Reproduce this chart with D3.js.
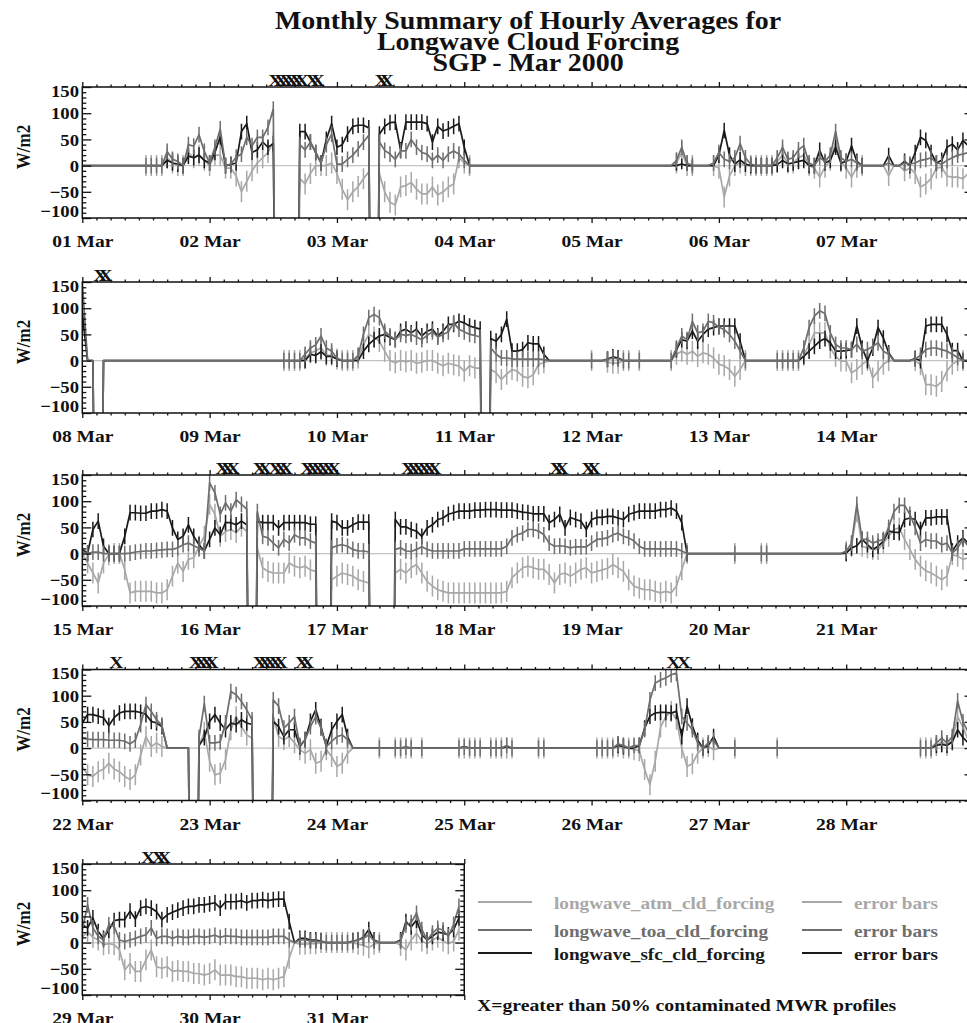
<!DOCTYPE html>
<html>
<head>
<meta charset="utf-8">
<script src="https://cdn.jsdelivr.net/npm/d3@7/dist/d3.min.js"></script>
<style>
html,body{margin:0;padding:0;background:#fff;}
svg text{font-family:"Liberation Serif","Times New Roman",serif;font-weight:bold;}
</style>
</head>
<body>
<svg id="chart" width="967" height="1023"></svg>
<script>
const F = -999; // fill value (missing), drawn off-scale like the original
const dayLabels = d3.range(1, 32).map(d => (d < 10 ? "0" + d : "" + d) + " Mar");
const panelDays = [[0, 7], [7, 14], [14, 21], [21, 28], [28, 31]];
const yTicks = [-100, -50, 0, 50, 100, 150];
const seriesNames = { atm: "longwave_atm_cld_forcing", toa: "longwave_toa_cld_forcing", sfc: "longwave_sfc_cld_forcing" };
// hours (local to each panel) flagged with >50% contaminated MWR profiles
const contaminated = [
  [36, 37, 38, 39, 40, 41, 43, 44, 56, 57],
  [3, 4],
  [26, 27, 28, 33, 34, 36, 37, 38, 42, 43, 44, 45, 46, 47, 61, 62, 63, 64, 65, 66, 89, 90, 95, 96],
  [6, 21, 22, 23, 24, 33, 34, 35, 36, 37, 41, 42, 111, 113],
  [12, 14, 15]
];

// hourly values, one row of 24 per day (01..31 Mar)
const sfc = [
[0,0,0,0,0,0,0,0, 0,0,0,0,0,0,0,0, 10,5,3,0,18,15,20,10],
[5,25,55,0,2,5,65,80, 25,30,45,35,42,F,F,F, F,65,65,45,25,5,50,80],
[35,40,60,75,77,77,72,F, 60,75,82,83,30,83,83,83, 83,80,45,75,66,70,75,80],
[35,0,0,0,0,0,0,0, 0,0,0,0,0,0,0,0, 0,0,0,0,0,0,0,0],
[0,0,0,0,0,0,0,0, 0,0,0,0,0,0,0,0, 0,3,0,0,0,0,0,0],
[20,67,20,3,11,3,0,0, 0,0,0,2,10,3,5,8, 10,0,0,29,5,10,35,5],
[8,38,8,0,0,0,0,0, 19,0,0,8,0,25,54,48, 25,5,10,35,41,30,48,38],
[90,0,0,F,0,0,0,0, 0,0,0,0,0,0,0,0, 0,0,0,0,0,0,0,0],
[0,0,0,0,0,0,0,0, 0,0,0,0,0,0,0,0, 0,0,0,12,10,17,8,8],
[3,0,0,0,0,18,31,40, 47,50,44,40,56,60,53,60, 47,56,60,47,56,69,69,75],
[72,66,63,60,F,42,37,50, 79,18,18,21,34,32,32,12, 0,0,0,0,0,0,0,0],
[0,0,0,3,7,5,0,0, 0,0,0,0,0,0,0,0, 21,40,37,56,37,50,60,63],
[66,66,66,66,37,0,0,0, 0,0,0,0,0,0,0,0, 8,18,27,37,42,34,18,18],
[19,21,66,24,0,24,63,43, 15,0,0,0,0,4,0,66, 69,69,69,50,19,19,0,0],
[8,1,46,62,14,0,0,0, 33,78,78,77,77,81,81,84, 81,49,27,33,55,33,17,5],
[27,49,36,59,59,55,62,55, F,62,59,59,59,49,59,59, 59,59,59,56,56,F,F,62],
[59,49,49,55,60,60,60,F, F,F,F,65,51,51,46,43, 33,49,55,65,68,75,78,81],
[81,81,83,83,84,84,84,83, 83,83,81,79,78,76,76,76, 59,65,75,49,69,65,62,46],
[65,69,69,71,71,68,65,75, 78,81,81,81,81,84,84,87, 81,59,0,0,0,0,0,0],
[0,0,0,0,0,0,0,0, 0,0,0,0,0,0,0,0, 0,0,0,0,0,0,0,0],
[1,11,15,27,17,8,14,24, 43,41,40,65,68,65,46,68, 68,70,70,70,5,20,30,20],
[48,64,64,61,58,43,58,67, 70,70,70,68,64,51,48,41, 0,0,0,0,0,F,5,20],
[51,64,48,35,48,45,54,48, 45,F,F,F,51,41,22,35, 35,3,16,51,73,41,3,35],
[51,64,22,0,0,0,0,0, 0,0,0,0,0,2,0,0, 0,0,0,0,0,0,0,0],
[3,0,0,0,0,0,0,0, 3,0,0,0,0,0,0,0, 0,0,0,0,0,0,0,0],
[0,0,0,0,0,5,3,0, 0,5,38,61,67,68,68,67, 70,22,80,42,15,0,5,22],
[0,0,0,0,0,0,0,0, 0,0,0,0,0,0,0,0, 0,0,0,0,0,0,0,0],
[0,0,0,0,0,0,0,0, 0,0,0,0,0,0,0,0, 0,5,7,5,12,35,20,10],
[34,28,47,21,8,24,42,44, 44,60,45,66,69,66,59,44, 53,58,62,66,69,69,72,72],
[74,76,66,78,78,78,80,76, 80,80,82,80,82,83,83,40, 0,8,8,5,5,3,0,0],
[0,0,0,3,5,10,25,5, 0,0,0,0,5,40,30,43, 15,5,12,20,18,15,25,47]
];
const toa = [
[0,0,0,0,0,0,0,0, 0,0,0,0,0,0,0,0, 27,12,8,0,40,37,59,27],
[5,35,70,0,3,16,22,54, 38,54,54,73,108,F,F,F, F,40,30,45,25,5,40,60],
[3,3,12,20,32,45,58,F, 45,29,22,12,28,28,50,35, 25,22,10,20,10,22,28,22],
[10,0,0,0,0,0,0,0, 0,0,0,0,0,0,0,0, 0,0,0,0,0,0,0,0],
[0,0,0,0,0,0,0,0, 0,0,0,0,0,0,0,0, 10,35,5,0,0,0,0,5],
[25,12,8,15,42,15,3,0, 0,0,0,15,35,12,15,30, 38,5,0,15,8,20,65,15],
[8,12,5,0,0,0,0,0, 5,0,0,5,3,5,10,12, 15,5,3,10,15,20,22,25],
[150,0,0,F,0,0,0,0, 0,0,0,0,0,0,0,0, 0,0,0,0,0,0,0,0],
[0,0,0,0,0,0,0,0, 0,0,0,0,0,0,0,0, 0,0,12,24,30,47,24,18],
[5,0,0,0,10,50,82,88, 82,56,47,40,50,48,50,45, 40,48,55,45,50,55,72,60],
[55,50,48,45,F,24,12,5, 5,3,3,3,3,3,3,2, 0,0,0,0,0,0,0,0],
[0,0,0,2,5,3,0,0, 0,0,0,0,0,0,0,0, 24,47,40,75,53,56,75,72],
[64,59,50,37,18,0,0,0, 0,0,0,0,0,0,0,0, 24,63,85,95,90,53,31,24],
[24,21,31,18,21,27,34,18, 12,0,0,0,0,3,10,21, 24,24,21,18,12,6,0,0],
[3,0,3,3,0,0,0,0, 0,1,3,4,5,5,6,7, 8,8,11,17,20,15,10,5],
[135,116,75,97,81,103,94,85, F,80,33,30,20,11,27,20, 36,30,30,24,20,F,F,11],
[15,17,14,8,5,5,3,F, F,F,F,8,11,5,4,8, 13,8,5,5,5,5,5,5],
[9,9,9,9,9,9,9,9, 14,30,36,39,46,46,43,36, 20,14,15,14,11,13,13,13],
[20,27,28,30,36,39,33,30, 24,14,9,9,9,9,9,9, 9,5,0,0,0,0,0,0],
[0,0,0,0,0,0,0,0, 0,0,0,0,0,0,0,0, 0,0,0,0,0,0,0,0],
[5,20,94,27,27,20,24,27, 50,80,92,92,75,50,20,27, 24,24,17,20,1,11,27,14],
[19,17,16,16,16,15,15,15, 13,8,15,45,83,70,54,44, 0,0,0,0,0,F,20,85],
[10,10,12,48,108,102,89,73, 54,F,F,F,92,80,38,48, 60,5,16,41,60,38,3,13],
[22,25,16,0,0,0,0,0, 0,0,0,0,0,2,0,0, 0,0,0,0,0,0,0,0],
[2,0,0,0,0,0,0,0, 5,0,0,0,0,0,0,0, 0,0,0,0,0,0,0,0],
[0,0,0,0,0,8,5,0, 5,5,35,92,124,130,134,140, 143,60,48,35,10,0,10,15],
[0,0,0,0,0,0,0,0, 0,0,0,0,0,0,0,0, 0,0,0,0,0,0,0,0],
[0,0,0,0,0,0,0,0, 0,0,0,0,0,0,0,0, 0,10,19,10,22,90,50,30],
[24,72,28,12,5,34,31,5, 2,5,8,12,15,28,8,12, 12,8,12,10,10,12,12,10],
[12,14,10,13,12,12,10,10, 10,10,10,10,12,12,12,5, 0,5,5,3,3,2,0,0],
[0,0,0,2,5,8,15,3, 0,0,0,0,3,34,38,56, 25,5,18,27,24,12,35,69]
];
const atm = [
[0,0,0,0,0,0,0,0, 0,0,0,0,0,0,0,0, 15,5,0,0,25,15,20,10],
[0,20,20,-5,-5,-20,-50,-30, -10,5,15,25,45,F,F,F, F,-25,-35,-15,0,0,0,5],
[-15,-45,-65,-50,-40,-25,-12,F, -15,-50,-70,-75,-41,-38,-32,-45, -54,-54,-41,-56,-50,-41,-35,15],
[5,0,0,0,0,0,0,0, 0,0,0,0,0,0,0,0, 0,0,0,0,0,0,0,0],
[0,0,0,0,0,0,0,0, 0,0,0,0,0,0,0,0, 5,25,0,0,0,0,0,0],
[-5,-60,-20,0,5,0,0,0, 0,0,0,8,20,5,5,15, 20,0,-5,-22,-3,10,45,8],
[-5,-22,-3,0,0,0,0,0, -19,0,0,-10,-5,-15,-41,-35, -25,-5,-3,-20,-22,-22,-25,-15],
[100,0,0,F,0,0,0,0, 0,0,0,0,0,0,0,0, 0,0,0,0,0,0,0,0],
[0,0,0,0,0,0,0,0, 0,0,0,0,0,0,0,0, 0,0,5,15,18,25,10,10],
[3,0,0,0,5,30,50,45, 37,18,0,-4,0,-2,0,-5, -3,0,0,-5,-10,-5,-8,-10],
[-20,-10,-14,-15,F,-17,-23,-36, -26,-17,-20,-30,-33,-27,-7,-4, 0,0,0,0,0,0,0,0],
[0,0,0,-3,-5,-5,0,0, 0,0,0,0,0,0,0,0, 12,18,12,18,8,15,12,5],
[-7,-10,-17,-30,-17,0,0,0, 0,0,0,0,0,0,0,0, 10,31,53,53,53,24,8,-1],
[-1,-23,-17,-7,0,-33,-20,-7, 0,0,0,0,0,0,-8,-46, -46,-49,-40,-20,-7,0,0,0],
[0,-18,-37,-56,-18,-2,0,0, -31,-75,-72,-72,-72,-72,-75,-75, -69,-43,-18,-34,-11,-8,14,33],
[94,75,33,42,46,40,52,42, F,10,-27,-34,-37,-37,-37,-18, -24,-27,-24,-31,-34,F,F,-50],
[-43,-37,-40,-43,-50,-53,-56,F, F,F,F,-37,-30,-37,-27,-21, -37,-53,-62,-69,-72,-75,-75,-75],
[-75,-75,-75,-75,-75,-75,-75,-75, -72,-46,-37,-27,-24,-27,-30,-30, -40,-56,-40,-37,-43,-37,-30,-27],
[-37,-34,-31,-28,-21,-27,-34,-50, -62,-66,-69,-69,-72,-75,-72,-75, -62,-31,0,0,0,0,0,0],
[0,0,0,0,0,0,0,0, 0,0,0,0,0,0,0,0, 0,0,0,0,0,0,0,0],
[4,14,80,14,11,8,8,20, 33,46,49,27,8,-11,-24,-33, -37,-43,-50,-43,-2,-5,-11,-8],
[-35,-51,-54,-45,-40,-29,-40,-45, -54,-60,-51,-13,22,3,10,3, 0,0,0,0,0,F,5,30],
[-25,-51,-48,-22,35,60,41,25, 19,F,F,F,60,22,16,22, 10,-3,-10,-3,-29,-25,-3,-16],
[-35,-29,-10,0,0,0,0,0, 0,0,0,0,0,0,0,0, 0,0,0,0,0,0,0,0],
[0,0,0,0,0,0,0,0, 0,0,0,0,0,0,0,0, 0,0,0,0,0,0,0,0],
[0,0,0,0,0,3,0,0, -3,-5,-41,-70,-25,40,60,70, 55,0,-35,-30,-10,0,3,-3],
[0,0,0,0,0,0,0,0, 0,0,0,0,0,0,0,0, 0,0,0,0,0,0,0,0],
[0,0,0,0,0,0,0,0, 0,0,0,0,0,0,0,0, 0,5,12,5,15,60,40,15],
[11,21,10,5,-4,-2,-4,-14, -52,-40,-55,-55,-33,-14,-46,-49, -46,-55,-53,-55,-55,-59,-59,-62],
[-59,-52,-62,-62,-62,-65,-65,-68, -68,-68,-71,-68,-71,-68,-65,-30, 0,-3,-3,-2,-2,0,0,0],
[0,0,0,0,-3,-5,-10,-3, 0,0,0,0,-5,-14,5,18, 3,-2,5,10,3,-2,3,24]
];

// error-bar half lengths (W/m2), 0 = no bar
const errSfc = [
[0,0,0,0,0,0,0,0, 0,0,0,0,0,0,0,0, 15,15,15,15,15,15,15,15],
[15,15,15,15,15,15,15,15, 15,15,15,15,15,0,0,0, 0,15,15,15,15,15,15,15],
[15,15,15,15,15,15,15,0, 15,15,15,15,15,15,15,15, 15,15,15,15,15,15,15,15],
[15,0,0,0,0,0,0,0, 0,0,0,0,0,0,0,0, 0,0,0,0,0,0,0,0],
[0,0,0,0,0,0,0,0, 0,0,0,0,0,0,0,0, 10,10,10,10,0,0,0,0],
[15,15,15,15,15,15,15,15, 15,15,15,15,15,15,15,15, 15,15,15,15,15,15,15,15],
[15,15,15,15,0,0,0,0, 15,0,0,15,15,15,15,15, 15,15,15,15,15,15,15,15],
[15,0,0,0,0,0,0,0, 0,0,0,0,0,0,0,0, 0,0,0,0,0,0,0,0],
[0,0,0,0,0,0,0,0, 0,0,0,0,0,0,0,0, 0,0,15,15,15,15,15,15],
[15,0,0,0,0,15,15,15, 15,15,15,15,15,15,15,15, 15,15,15,15,15,15,15,15],
[15,15,15,15,0,15,15,15, 15,15,15,15,15,15,15,15, 0,0,0,0,0,0,0,0],
[0,0,0,15,15,15,0,0, 0,0,0,0,0,0,0,0, 15,15,15,15,15,15,15,15],
[15,15,15,15,15,0,0,0, 0,0,0,0,0,0,0,0, 15,15,15,15,15,15,15,15],
[15,15,15,15,15,15,15,15, 15,0,0,0,0,15,15,15, 15,15,15,15,15,15,15,0],
[15,15,15,15,15,15,15,15, 15,15,15,15,15,15,15,15, 15,15,15,15,15,15,15,15],
[15,15,15,15,15,15,15,15, 0,15,15,15,15,15,15,15, 15,15,15,15,15,0,0,15],
[15,15,15,15,15,15,15,0, 0,0,0,15,15,15,15,15, 15,15,15,15,15,15,15,15],
[15,15,15,15,15,15,15,15, 15,15,15,15,15,15,15,15, 15,15,15,15,15,15,15,15],
[15,15,15,15,15,15,15,15, 15,15,15,15,15,15,15,15, 15,15,15,0,0,0,0,0],
[0,0,0,0,0,0,0,0, 0,0,0,0,0,0,0,0, 0,0,0,0,0,0,0,0],
[15,15,15,15,15,15,15,15, 15,15,15,15,15,15,15,15, 15,15,15,15,15,15,15,15],
[15,15,15,15,15,15,15,15, 15,15,15,15,15,15,15,15, 0,0,0,0,0,0,15,15],
[15,15,15,15,15,15,15,15, 15,0,0,0,15,15,15,15, 15,15,15,15,15,15,15,15],
[15,15,15,0,0,0,0,0, 0,0,0,0,0,0,0,0, 0,0,0,0,0,0,0,0],
[0,0,0,0,0,0,0,0, 0,0,0,0,0,0,0,0, 0,0,0,0,0,0,0,0],
[0,0,0,0,0,15,15,0, 0,15,15,15,15,15,15,15, 15,15,15,15,15,15,15,15],
[0,0,0,0,0,0,0,0, 0,0,0,0,0,0,0,0, 0,0,0,0,0,0,0,0],
[0,0,0,0,0,0,0,0, 0,0,0,0,0,0,0,0, 0,15,15,15,15,15,15,15],
[15,15,15,15,15,15,15,15, 15,15,15,15,15,15,15,15, 15,15,15,15,15,15,15,15],
[15,15,15,15,15,15,15,15, 15,15,15,15,15,15,15,15, 0,15,15,15,15,15,0,0],
[0,0,0,15,15,15,15,15, 0,0,0,0,15,15,15,15, 15,15,15,15,15,15,15,15]
];
const errToa = [
[0,0,0,0,0,0,0,0, 0,0,0,0,15,15,15,15, 15,15,15,15,15,15,15,15],
[15,15,15,15,15,15,15,15, 15,15,15,15,15,0,0,0, 0,15,15,15,15,15,15,15],
[15,15,15,15,15,15,15,0, 15,15,15,15,15,15,15,15, 15,15,15,15,15,15,15,15],
[15,15,0,0,0,0,0,0, 0,0,0,0,0,0,0,0, 0,0,0,0,0,0,0,0],
[0,0,0,0,0,0,0,0, 0,0,0,0,0,0,0,0, 15,15,15,15,0,0,0,15],
[15,15,15,15,15,15,15,15, 15,15,15,15,15,15,15,15, 15,15,15,15,15,15,15,15],
[15,15,15,15,0,0,0,0, 15,0,0,15,15,15,15,15, 15,15,15,15,15,15,15,15],
[15,0,0,0,0,0,0,0, 0,0,0,0,0,0,0,0, 0,0,0,0,0,0,0,0],
[0,0,0,0,0,0,0,0, 0,0,0,0,0,0,15,15, 15,15,15,15,15,15,15,15],
[15,15,15,15,15,15,15,15, 15,15,15,15,15,15,15,15, 15,15,15,15,15,15,15,15],
[15,15,15,15,0,15,15,15, 15,15,15,15,15,15,15,15, 0,0,0,0,0,0,0,0],
[15,0,0,15,15,15,15,15, 0,15,0,0,0,0,0,15, 15,15,15,15,15,15,15,15],
[15,15,15,15,15,15,0,0, 0,0,0,15,15,15,15,15, 15,15,15,15,15,15,15,15],
[15,15,15,15,15,15,15,15, 15,0,0,0,0,15,15,15, 15,15,15,15,15,15,15,0],
[15,15,15,15,15,15,15,15, 15,15,15,15,15,15,15,15, 15,15,15,15,15,15,15,15],
[15,15,15,15,15,15,15,15, 0,15,15,15,15,15,15,15, 15,15,15,15,15,0,0,15],
[15,15,15,15,15,15,15,0, 0,0,0,15,15,15,15,15, 15,15,15,15,15,15,15,15],
[15,15,15,15,15,15,15,15, 15,15,15,15,15,15,15,15, 15,15,15,15,15,15,15,15],
[15,15,15,15,15,15,15,15, 15,15,15,15,15,15,15,15, 15,15,15,0,0,0,0,0],
[0,0,0,15,0,0,0,0, 15,15,0,0,0,0,0,0, 0,0,0,0,0,0,0,0],
[15,15,15,15,15,15,15,15, 15,15,15,15,15,15,15,15, 15,15,15,15,15,15,15,15],
[15,15,15,15,15,15,15,15, 15,15,15,15,15,15,15,15, 0,0,0,0,0,0,15,15],
[15,15,15,15,15,15,15,15, 15,0,0,0,15,15,15,15, 15,15,15,15,15,15,15,15],
[15,15,15,0,0,0,0,0, 15,0,0,15,15,15,15,0, 15,0,0,0,0,0,0,15],
[15,15,15,15,0,15,15,15, 15,15,0,0,0,0,15,15, 0,0,0,0,0,0,0,0],
[0,15,15,15,15,15,15,15, 15,15,15,15,15,15,15,15, 15,15,15,15,15,15,15,15],
[0,0,0,15,0,0,0,0, 0,0,0,15,0,0,0,0, 0,0,0,0,0,0,0,0],
[0,0,0,0,0,0,0,0, 0,0,0,0,0,0,15,15, 15,15,15,15,15,15,15,15],
[15,15,15,15,15,15,15,15, 15,15,15,15,15,15,15,15, 15,15,15,15,15,15,15,15],
[15,15,15,15,15,15,15,15, 15,15,15,15,15,15,15,15, 0,15,15,15,15,15,15,15],
[15,15,15,15,15,15,15,15, 15,0,0,0,15,15,15,15, 15,15,15,15,15,15,15,15]
];
const errAtm = [
[0,0,0,0,0,0,0,0, 0,0,0,0,20,20,20,20, 20,20,20,20,20,20,20,20],
[20,20,20,20,20,20,20,20, 20,20,20,20,20,0,0,0, 0,20,20,20,20,20,20,20],
[20,20,20,20,20,20,20,0, 20,20,20,20,20,20,20,20, 20,20,20,20,20,20,20,20],
[20,20,0,0,0,0,0,0, 0,0,0,0,0,0,0,0, 0,0,0,0,0,0,0,0],
[0,0,0,0,0,0,0,0, 0,0,0,0,0,0,0,0, 20,20,20,20,0,0,0,20],
[20,20,20,20,20,20,20,20, 20,20,20,20,20,20,20,20, 20,20,20,20,20,20,20,20],
[20,20,20,20,0,0,0,0, 20,0,0,20,20,20,20,20, 20,20,20,20,20,20,20,20],
[20,0,0,0,0,0,0,0, 0,0,0,0,0,0,0,0, 0,0,0,0,0,0,0,0],
[0,0,0,0,0,0,0,0, 0,0,0,0,0,0,20,20, 20,20,20,20,20,20,20,20],
[20,20,20,20,20,20,20,20, 20,20,20,20,20,20,20,20, 20,20,20,20,20,20,20,20],
[20,20,20,20,0,20,20,20, 20,20,20,20,20,20,20,20, 0,0,0,0,0,0,0,0],
[20,0,0,20,20,20,20,20, 0,20,0,0,0,0,0,20, 20,20,20,20,20,20,20,20],
[20,20,20,20,20,20,0,0, 0,0,0,20,20,20,20,20, 20,20,20,20,20,20,20,20],
[20,20,20,20,20,20,20,20, 20,0,0,0,0,20,20,20, 20,20,20,20,20,20,20,0],
[20,20,20,20,20,20,20,20, 20,20,20,20,20,20,20,20, 20,20,20,20,20,20,20,20],
[20,20,20,20,20,20,20,20, 0,20,20,20,20,20,20,20, 20,20,20,20,20,0,0,20],
[20,20,20,20,20,20,20,0, 0,0,0,20,20,20,20,20, 20,20,20,20,20,20,20,20],
[20,20,20,20,20,20,20,20, 20,20,20,20,20,20,20,20, 20,20,20,20,20,20,20,20],
[20,20,20,20,20,20,20,20, 20,20,20,20,20,20,20,20, 20,20,20,0,0,0,0,0],
[0,0,0,20,0,0,0,0, 20,20,0,0,0,0,0,0, 0,0,0,0,0,0,0,0],
[20,20,20,20,20,20,20,20, 20,20,20,20,20,20,20,20, 20,20,20,20,20,20,20,20],
[20,20,20,20,20,20,20,20, 20,20,20,20,20,20,20,20, 0,0,0,0,0,0,20,20],
[20,20,20,20,20,20,20,20, 20,0,0,0,20,20,20,20, 20,20,20,20,20,20,20,20],
[20,20,20,0,0,0,0,0, 20,0,0,20,20,20,20,0, 20,0,0,0,0,0,0,20],
[20,20,20,20,0,20,20,20, 20,20,0,0,0,0,20,20, 0,0,0,0,0,0,0,0],
[0,20,20,20,20,20,20,20, 20,20,20,20,20,20,20,20, 20,20,20,20,20,20,20,20],
[0,0,0,20,0,0,0,0, 0,0,0,20,0,0,0,0, 0,0,0,0,0,0,0,0],
[0,0,0,0,0,0,0,0, 0,0,0,0,0,0,20,20, 20,20,20,20,20,20,20,20],
[20,20,20,20,20,20,20,20, 20,20,20,20,20,20,20,20, 20,20,20,20,20,20,20,20],
[20,20,20,20,20,20,20,20, 20,20,20,20,20,20,20,20, 0,20,20,20,20,20,20,20],
[20,20,20,20,20,20,20,20, 20,0,0,0,20,20,20,20, 20,20,20,20,20,20,20,20]
];

// ---------------- drawing ----------------
const SX = 1.15;               // horizontal stretch of the original lettering
const X0 = 82.3, HW = 5.305, PH = 131;
const panelTops = [87, 282, 475, 669.5, 864];
const colors = { atm: "#a8a8a8", toa: "#6e6e6e", sfc: "#1a1a1a" };
const series = [
  { key: "atm", data: atm, err: errAtm },
  { key: "sfc", data: sfc, err: errSfc },
  { key: "toa", data: toa, err: errToa }
];
const svg = d3.select("#chart");

// title
const titleLines = ["Monthly Summary of Hourly Averages for", "Longwave Cloud Forcing", "SGP - Mar 2000"];
const titleY = [29, 49.5, 71];
titleLines.forEach((t, i) => {
  svg.append("text").attr("transform", `translate(528,${titleY[i]}) scale(1.075,1)`)
    .attr("text-anchor", "middle").attr("font-size", 26).attr("fill", "#111").text(t);
});

function cleanAxis(g) {
  g.attr("font-family", null).attr("font-size", null);
  g.select(".domain").remove();
  g.selectAll("line").attr("stroke", "#111").attr("stroke-width", 1.3);
}

panelDays.forEach((pd, pi) => {
  const nd = pd[1] - pd[0];
  const top = panelTops[pi];
  const x = d3.scaleLinear().domain([0, nd * 24]).range([X0, X0 + nd * 24 * HW]);
  const y = d3.scaleLinear().domain([-100, 150]).range([top + PH, top]);
  const xr = x.range()[1];
  const g = svg.append("g");

  const clipId = "clip" + pi;
  svg.append("clipPath").attr("id", clipId).append("rect")
    .attr("x", X0).attr("y", top).attr("width", xr - X0).attr("height", PH);

  // zero reference line
  g.append("line").attr("x1", X0).attr("x2", xr).attr("y1", y(0)).attr("y2", y(0))
    .attr("stroke", "#c4c4c4").attr("stroke-width", 1.2);

  const plot = g.append("g").attr("clip-path", `url(#${clipId})`);
  series.forEach(s => {
    const pts = [];
    for (let d = pd[0]; d < pd[1]; d++) {
      s.data[d].forEach((v, h) => pts.push({ t: (d - pd[0]) * 24 + h, v: v, e: s.err[d][h] || 0 }));
    }
    plot.append("g").selectAll("line")
      .data(pts.filter(q => q.e > 0 && q.v !== F)).join("line")
      .attr("x1", q => x(q.t)).attr("x2", q => x(q.t))
      .attr("y1", q => y(q.v - q.e)).attr("y2", q => y(q.v + q.e))
      .attr("stroke", colors[s.key]).attr("stroke-width", 1.5);
    plot.append("path").datum(pts)
      .attr("d", d3.line().x(q => x(q.t)).y(q => y(q.v)))
      .attr("fill", "none").attr("stroke", colors[s.key]).attr("stroke-width", 1.7)
      .attr("stroke-linejoin", "round");
  });

  // frame
  g.append("rect").attr("x", X0).attr("y", top).attr("width", xr - X0).attr("height", PH)
    .attr("fill", "none").attr("stroke", "#111").attr("stroke-width", 1.5);

  // x axes
  const major = d3.range(0, nd * 24 + 1, 24);
  const minor = [];
  for (let d = 0; d < nd; d++) for (let j = 1; j < 9; j++) minor.push(d * 24 + j * 24 / 9);
  const bottom = g.append("g").attr("transform", `translate(0,${top + PH})`)
    .call(d3.axisBottom(x).tickValues(major).tickSize(5).tickPadding(12)
      .tickFormat(t => { const k = t / 24; return k < nd ? dayLabels[pd[0] + k] : ""; }))
    .call(cleanAxis);
  bottom.selectAll("text").attr("font-size", 17).attr("fill", "#111").attr("transform", `scale(${SX},1)`);
  g.append("g").attr("transform", `translate(0,${top + PH})`)
    .call(d3.axisBottom(x).tickValues(minor).tickSize(2.5).tickFormat("")).call(cleanAxis);
  g.append("g").attr("transform", `translate(0,${top})`)
    .call(d3.axisTop(x).tickValues(major).tickSize(5).tickFormat("")).call(cleanAxis);
  g.append("g").attr("transform", `translate(0,${top})`)
    .call(d3.axisTop(x).tickValues(minor).tickSize(2.5).tickFormat("")).call(cleanAxis);

  // y axes (ticks pointing inward)
  const yMinor = d3.range(-100, 151, 10).filter(v => v % 50 !== 0);
  const left = g.append("g").attr("transform", `translate(${X0},0)`)
    .call(d3.axisLeft(y).tickValues(yTicks).tickSize(-9).tickPadding(3)).call(cleanAxis);
  left.selectAll("text").attr("font-size", 17).attr("fill", "#111")
    .attr("transform", `scale(1.1,1)`)
    .attr("dy", v => v === 150 ? "0.55em" : v === -100 ? "-0.1em" : "0.34em");
  g.append("g").attr("transform", `translate(${X0},0)`)
    .call(d3.axisLeft(y).tickValues(yMinor).tickSize(-4).tickFormat("")).call(cleanAxis);
  g.append("g").attr("transform", `translate(${xr},0)`)
    .call(d3.axisRight(y).tickValues(yTicks).tickSize(-9).tickFormat("")).call(cleanAxis);
  g.append("g").attr("transform", `translate(${xr},0)`)
    .call(d3.axisRight(y).tickValues(yMinor).tickSize(-4).tickFormat("")).call(cleanAxis);

  // y title
  g.append("text").attr("transform", `translate(29.5,${top + 60}) scale(${SX},1) rotate(-90)`)
    .attr("text-anchor", "middle").attr("font-size", 17).attr("fill", "#111").text("W/m2");

  // contamination markers
  g.selectAll("text.xmark").data(contaminated[pi]).join("text").attr("class", "xmark")
    .attr("transform", h => `translate(${x(h + 0.4)},${top - 1.5}) scale(${SX},1)`)
    .attr("text-anchor", "middle").attr("font-size", 17).attr("fill", "#111").text("X");
});

// legend
const legendRows = [
  { key: "atm", y: 902 }, { key: "toa", y: 930 }, { key: "sfc", y: 953 }
];
const lg = svg.append("g");
legendRows.forEach(r => {
  lg.append("line").attr("x1", 478).attr("x2", 532).attr("y1", r.y).attr("y2", r.y)
    .attr("stroke", colors[r.key]).attr("stroke-width", 2);
  lg.append("text").attr("transform", `translate(554,${r.y + 6.5}) scale(1.13,1)`)
    .attr("font-size", 17).attr("fill", colors[r.key]).text(seriesNames[r.key]);
  lg.append("line").attr("x1", 802).attr("x2", 842).attr("y1", r.y).attr("y2", r.y)
    .attr("stroke", colors[r.key]).attr("stroke-width", 2);
  lg.append("text").attr("transform", `translate(854,${r.y + 6.5}) scale(1.13,1)`)
    .attr("font-size", 17).attr("fill", colors[r.key]).text("error bars");
});
lg.append("text").attr("transform", "translate(477,1011) scale(1.16,1)")
  .attr("font-size", 17).attr("fill", "#111").text("X=greater than 50% contaminated MWR profiles");
</script>
</body>
</html>
